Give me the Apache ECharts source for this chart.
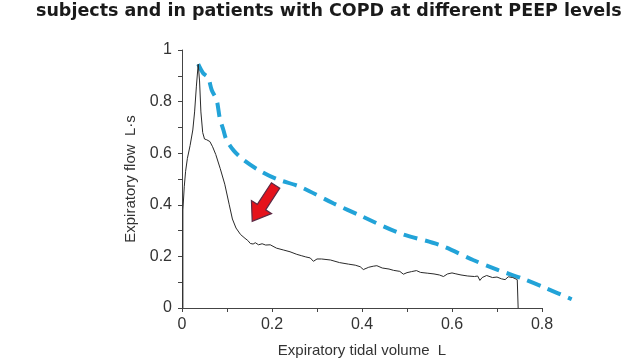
<!DOCTYPE html>
<html>
<head>
<meta charset="utf-8">
<script src="https://cdn.jsdelivr.net/npm/echarts@6/dist/echarts.min.js"></script>
<style>html,body{margin:0;padding:0;background:#fff}#c{width:640px;height:360px}</style>
</head>
<body>
<div id="c"></div>
<script>
const titleText = 'subjects and in patients with COPD at different PEEP levels';
const xAxisName = 'Expiratory tidal volume  L';
const yAxisName = 'Expiratory flow  L\u00b7s';
const xTicks = [0, 0.2, 0.4, 0.6, 0.8];
const yTicks = [0, 0.2, 0.4, 0.6, 0.8, 1];

// measured (black) curve
const volume = [0.002,0.002,0.005,0.008,0.012,0.018,0.024,0.028,0.032,0.036,0.039,0.042,0.046,0.050,0.055,0.062,0.068,0.075,0.085,0.095,0.105,0.112,0.120,0.130,0.140,0.146,0.152,0.158,0.163,0.170,0.178,0.186,0.196,0.210,0.225,0.240,0.255,0.265,0.275,0.285,0.292,0.300,0.310,0.330,0.350,0.370,0.385,0.396,0.403,0.415,0.425,0.433,0.445,0.460,0.470,0.484,0.492,0.500,0.510,0.521,0.530,0.545,0.560,0.572,0.581,0.590,0.600,0.607,0.620,0.635,0.650,0.657,0.662,0.667,0.677,0.690,0.700,0.710,0.718,0.725,0.735,0.745,0.747];
const flow   = [0.000,0.380,0.470,0.530,0.580,0.630,0.690,0.760,0.860,0.945,0.880,0.760,0.680,0.655,0.652,0.645,0.625,0.595,0.540,0.480,0.400,0.345,0.310,0.285,0.270,0.262,0.250,0.248,0.253,0.245,0.249,0.244,0.245,0.232,0.225,0.218,0.208,0.203,0.198,0.194,0.181,0.190,0.190,0.186,0.176,0.170,0.166,0.160,0.149,0.158,0.162,0.164,0.155,0.151,0.146,0.142,0.131,0.137,0.141,0.145,0.138,0.135,0.132,0.128,0.122,0.132,0.136,0.133,0.128,0.124,0.122,0.124,0.107,0.118,0.126,0.118,0.120,0.113,0.110,0.121,0.118,0.110,0.000];

// maximal flow envelope (dashed)
const envVolume = [0.036,0.047,0.058,0.066,0.077,0.084,0.092,0.099,0.115,0.136,0.170,0.210,0.262,0.336,0.400,0.484,0.573,0.647,0.703,0.755,0.810,0.866];
const envFlow   = [0.945,0.910,0.893,0.845,0.806,0.735,0.690,0.651,0.610,0.575,0.535,0.500,0.470,0.406,0.355,0.290,0.244,0.186,0.147,0.115,0.076,0.034];

// arrow annotation: tail (x,y) -> tip (x,y)
const arrow = [[0.208, 0.475, 0.156, 0.336]];

const FONT = '"Liberation Sans", Arial, sans-serif';
const AX = '#444';
const chart = echarts.init(document.getElementById('c'));
chart.setOption({
  animation: false,
  backgroundColor: '#fff',
  title: {
    text: titleText, left: 31, top: -3,
    textStyle: {fontFamily: '"DejaVu Sans", sans-serif', fontWeight: 'bold', fontSize: 17.5, color: '#1a1a1a'}
  },
  grid: [
    {left: 182, right: 98, top: 50, bottom: 52, outerBoundsMode: 'none', containLabel: false},
    {left: 182, right: 53, top: 50, bottom: 52, outerBoundsMode: 'none', containLabel: false}
  ],
  xAxis: [{
    type: 'value', min: 0, max: 0.8, interval: 0.2, gridIndex: 0,
    name: xAxisName, nameLocation: 'middle', nameGap: 35,
    nameTextStyle: {fontFamily: FONT, fontSize: 15, color: '#333'},
    axisLine: {lineStyle: {color: AX, width: 1}},
    axisTick: {length: 4, lineStyle: {color: AX}},
    minorTick: {show: true, splitNumber: 2, length: 4, lineStyle: {color: AX}},
    splitLine: {show: false},
    axisLabel: {fontFamily: FONT, fontSize: 16, color: '#333', margin: 9,
      formatter: v => xTicks.includes(Math.round(v*10)/10) ? String(Math.round(v*10)/10) : ''}
  }, {
    type: 'value', min: 0, max: 0.9, gridIndex: 1, show: false
  }],
  yAxis: [{
    type: 'value', min: 0, max: 1, interval: 0.2, gridIndex: 0,
    name: yAxisName, nameLocation: 'middle', nameGap: 42, nameRotate: 90,
    nameTextStyle: {fontFamily: FONT, fontSize: 15, color: '#333'},
    axisLine: {show: true, lineStyle: {color: AX, width: 1}},
    axisTick: {show: true, length: 4, lineStyle: {color: AX}},
    minorTick: {show: true, splitNumber: 2, length: 4, lineStyle: {color: AX}},
    splitLine: {show: false},
    axisLabel: {fontFamily: FONT, fontSize: 16, color: '#333', margin: 10,
      formatter: v => yTicks.includes(Math.round(v*10)/10) ? String(Math.round(v*10)/10) : ''}
  }, {
    type: 'value', min: 0, max: 1, gridIndex: 1, show: false
  }],
  series: [
    {
      type: 'line', data: envVolume.map((v,i)=>[v, envFlow[i]]),
      xAxisIndex: 1, yAxisIndex: 1,
      showSymbol: false, smooth: 0.3, clip: false, z: 3,
      lineStyle: {color: '#22a3d8', width: 4, type: [14, 8]}
    },
    {
      type: 'line', data: volume.map((v,i)=>[v, flow[i]]),
      showSymbol: false, clip: false, z: 4,
      lineStyle: {color: '#2a2a2a', width: 1}
    },
    {
      type: 'custom', data: arrow, encode: {x: [0,2], y: [1,3]}, clip: false, z: 5,
      renderItem: function (params, api) {
        const a = api.coord([api.value(0), api.value(1)]);
        const b = api.coord([api.value(2), api.value(3)]);
        const dx = b[0]-a[0], dy = b[1]-a[1];
        const L = Math.sqrt(dx*dx+dy*dy);
        const ux = dx/L, uy = dy/L, px = -uy, py = ux;
        const sw = 5, hw = 12, hl = 17;
        const h = [b[0]-ux*hl, b[1]-uy*hl];
        const pts = [
          [a[0]+px*sw, a[1]+py*sw],
          [h[0]+px*sw, h[1]+py*sw],
          [h[0]+px*hw, h[1]+py*hw],
          [b[0], b[1]],
          [h[0]-px*hw, h[1]-py*hw],
          [h[0]-px*sw, h[1]-py*sw],
          [a[0]-px*sw, a[1]-py*sw]
        ];
        return {type: 'polygon', shape: {points: pts},
          style: {fill: '#e5121c', stroke: '#5e2a44', lineWidth: 1.2}};
      }
    }
  ]
});
</script>
</body>
</html>
